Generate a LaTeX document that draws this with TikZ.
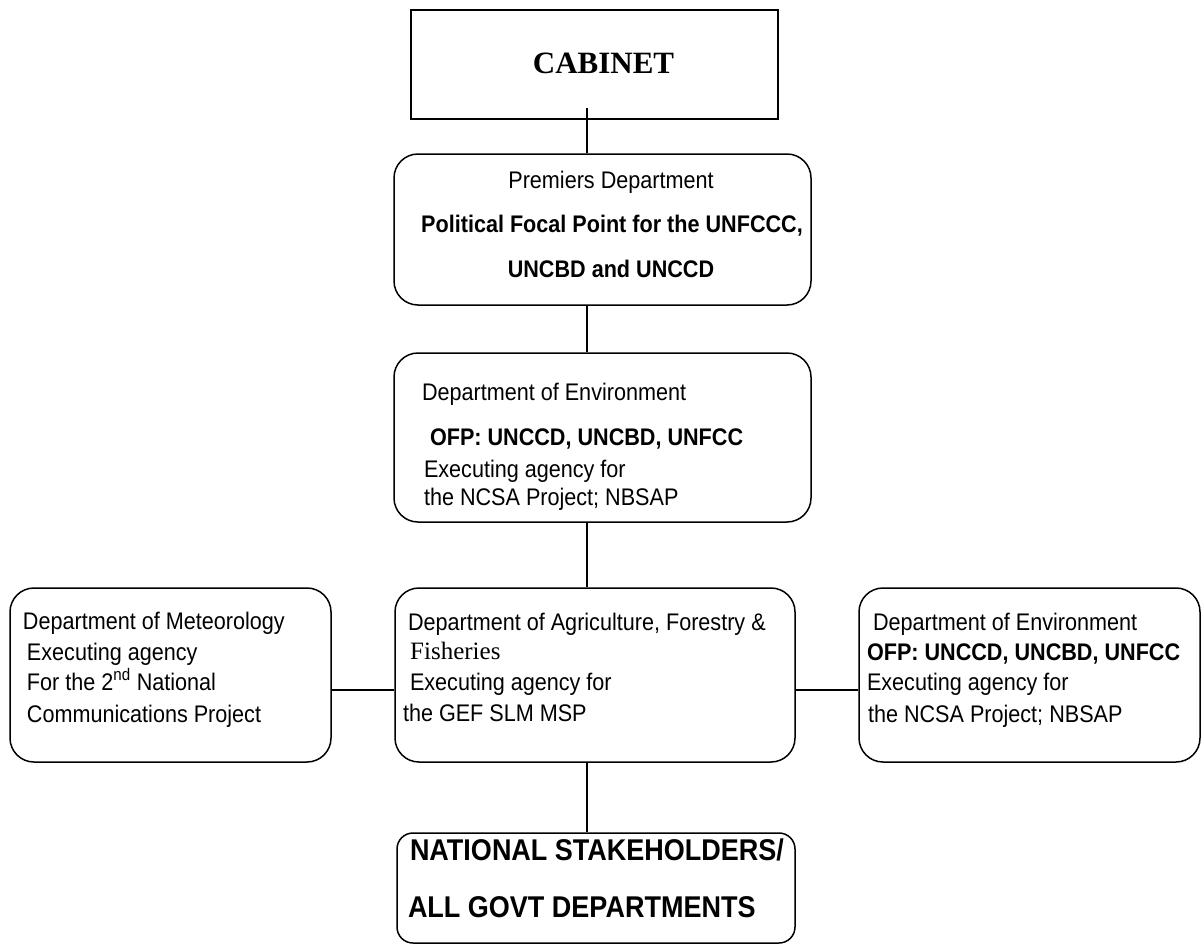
\documentclass[tikz,border=0pt]{standalone}
\usepackage{fontspec}
\setmainfont{Liberation Sans}
\newfontfamily\narrowf{Liberation Sans}[FakeStretch=0.9]
\newfontfamily\seriff{Liberation Serif}
\begin{document}
\begin{tikzpicture}[x=1pt,y=-1pt,
  box/.style={draw=black,line width=1.5pt,rounded corners=24pt,inner sep=0pt},
  sqbox/.style={draw=black,line width=1.5pt,inner sep=0pt},
  conn/.style={draw=black,line width=1.5pt},
  txt/.style={inner sep=0pt,outer sep=0pt,anchor=base west,font=\narrowf\fontsize{24}{28}\selectfont},
  txtc/.style={txt,anchor=base},
  btxt/.style={txt,font=\narrowf\bfseries\fontsize{24}{28}\selectfont},
  btxtc/.style={btxt,anchor=base}]
\useasboundingbox (0,0) rectangle (1203,945);
% boxes
\node[sqbox,minimum width=367pt,minimum height=109pt] (cab) at (594.5,64.5) {};
\node[box,minimum width=417pt,minimum height=151pt] (prem) at (602.5,229.5) {};
\node[box,minimum width=417pt,minimum height=169pt] (env) at (602.5,437.5) {};
\node[box,minimum width=321pt,minimum height=174pt] (met) at (170.5,675) {};
\node[box,minimum width=400pt,minimum height=174pt] (ag) at (595,675) {};
\node[box,minimum width=341pt,minimum height=174pt] (envr) at (1029.5,675) {};
\node[box,rounded corners=16pt,minimum width=398pt,minimum height=110pt] (nat) at (596,888) {};
% connector guides
\coordinate (xl) at (587,0);
\coordinate (hl) at (0,690);
\draw[conn] ([yshift=12pt]cab.south -| xl) -- (prem.north -| xl);
\draw[conn] (prem.south -| xl) -- (env.north -| xl);
\draw[conn] (env.south -| xl) -- (ag.north -| xl);
\draw[conn] (ag.south -| xl) -- (nat.north -| xl);
\draw[conn] (met.east |- hl) -- (ag.west |- hl);
\draw[conn] (ag.east |- hl) -- (envr.west |- hl);
% texts
\node[inner sep=0pt,anchor=base,font=\seriff\bfseries\fontsize{31}{36}\selectfont] (tcab) at (603.5,73) {CABINET};
\node[txtc] (tp1) at (611,188) {Premiers Department};
\node[btxtc] (tp2) at (612,232) {Political Focal Point for the UNFCCC,};
\node[btxtc] (tp3) at (611,277) {UNCBD and UNCCD};
\node[txt] (te1) at (422,400) {Department of Environment};
\node[btxt] (te2) at (430,445) {OFP: UNCCD, UNCBD, UNFCC};
\node[txt] (te3) at (424,477) {Executing agency for};
\node[txt] (te4) at (424,505) {the NCSA Project; NBSAP};
\node[txt] (tm1) at (23,629) {Department of Meteorology};
\node[txt] (tm2) at (27,660) {Executing agency};
\node[txt] (tm3) at (27,690) {For the 2\textsuperscript{nd} National};
\node[txt] (tm4) at (27,722) {Communications Project};
\node[txt] (ta1) at (408,630) {Department of Agriculture, Forestry \&};
\node[inner sep=0pt,anchor=base west,font=\seriff\fontsize{25}{28}\selectfont] (ta2) at (410,659) {Fisheries};
\node[txt] (ta3) at (410,690) {Executing agency for};
\node[txt] (ta4) at (403,721) {the GEF SLM MSP};
\node[txt] (tr1) at (873,630) {Department of Environment};
\node[btxt] (tr2) at (867,660) {OFP: UNCCD, UNCBD, UNFCC};
\node[txt] (tr3) at (867,690) {Executing agency for};
\node[txt] (tr4) at (868,722) {the NCSA Project; NBSAP};
\node[btxt,font=\narrowf\bfseries\fontsize{30}{34}\selectfont] (tn1) at (410,860) {NATIONAL STAKEHOLDERS/};
\node[btxt,font=\narrowf\bfseries\fontsize{30}{34}\selectfont] (tn2) at (408,917) {ALL GOVT DEPARTMENTS};
\end{tikzpicture}
\end{document}
